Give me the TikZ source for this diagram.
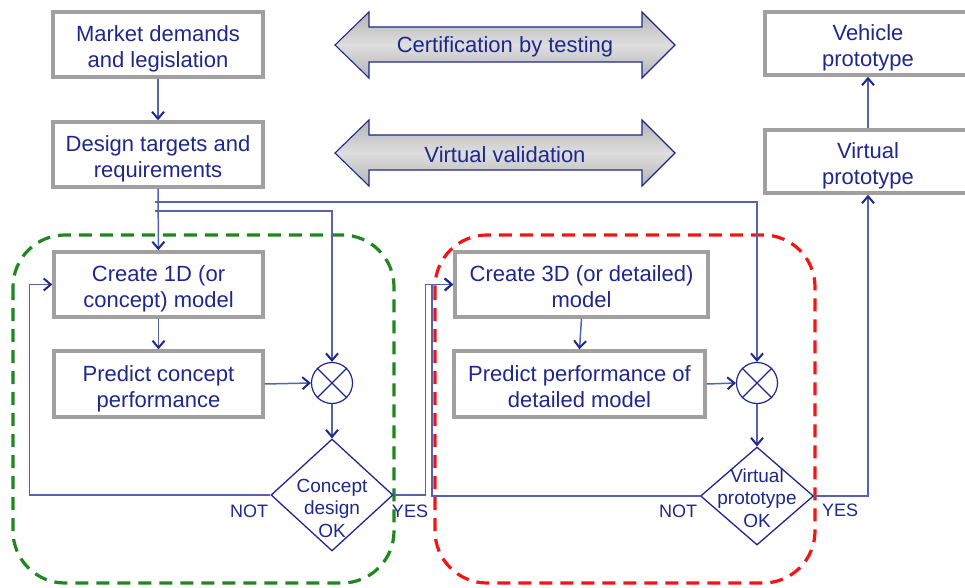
\documentclass[tikz,border=0pt]{standalone}
\usepackage{fontspec}
\setmainfont{Liberation Sans}
\usetikzlibrary{arrows.meta,shapes.geometric}
\definecolor{inkblue}{RGB}{30,40,140}
\definecolor{wireblue}{RGB}{85,100,170}
\definecolor{boxgray}{RGB}{160,160,160}
\definecolor{loopgreen}{RGB}{30,135,30}
\definecolor{loopred}{RGB}{245,20,20}
\definecolor{bandlight}{RGB}{222,222,222}
\definecolor{banddark}{RGB}{180,180,180}
\begin{document}
\begin{tikzpicture}[x=1pt,y=-1pt,
  stepbox/.style={draw=boxgray, line width=3.5pt, fill=white, text=inkblue,
    align=center, inner sep=0pt, font=\fontsize{22}{26}\selectfont,
    text height=46pt, text depth=0pt},
  wire/.style={draw=wireblue, line width=1.5pt,
    -{Straight Barb[length=7pt,width=12pt,line width=2pt,color=inkblue]}},
  mixer/.style={circle, draw=inkblue, line width=1.2pt, minimum size=41pt, inner sep=0pt, fill=white},
  decision/.style={diamond, draw=inkblue, line width=1.3pt, inner sep=0pt, fill=white},
  dtext/.style={text=inkblue, align=center, font=\fontsize{19}{22.5}\selectfont},
  tag/.style={text=inkblue, font=\fontsize{18}{20}\selectfont},
  band/.style={draw=inkblue, line width=1.1pt, top color=banddark, bottom color=banddark, middle color=bandlight},
  bandtext/.style={text=inkblue, font=\fontsize{22}{26}\selectfont},
  loop/.style={line width=3.2pt, dash pattern=on 13pt off 8pt, rounded corners=52pt}
]
\useasboundingbox (0,0) rectangle (965,588);

% dashed loop frames
\draw[loop, draw=loopgreen] (13,235) rectangle (394,583);
\draw[loop, draw=loopred] (435,235) rectangle (815,583);

% validation bands
\path[band] (335,45) -- (369,12) -- (369,27) -- (642,27) -- (642,12) -- (675,45)
  -- (642,78) -- (642,62) -- (369,62) -- (369,78) -- cycle;
\node[bandtext] (cert) at (505,47) {Certification by testing};
\path[band] (335,153) -- (369,120) -- (369,135) -- (642,135) -- (642,120) -- (675,153)
  -- (642,186) -- (642,170) -- (369,170) -- (369,186) -- cycle;
\node[bandtext] (virt) at (505,155) {Virtual validation};

% process boxes
\node[stepbox, minimum width=210pt, minimum height=65pt] (market) at (158,44.5) {Market demands\\and legislation};
\node[stepbox, minimum width=210pt, minimum height=65pt] (design) at (158,154.5) {Design targets and\\requirements};
\node[stepbox, minimum width=209pt, minimum height=65pt] (create1) at (158.5,284.5) {Create 1D (or\\concept) model};
\node[stepbox, minimum width=209pt, minimum height=66pt] (pred1) at (158.5,384) {Predict concept\\performance};
\node[stepbox, minimum width=253pt, minimum height=65pt] (create3) at (581.5,284.5) {Create 3D (or detailed)\\model};
\node[stepbox, minimum width=251pt, minimum height=66pt] (pred3) at (579.5,384) {Predict performance of\\detailed model};
\node[stepbox, minimum width=206pt, minimum height=63pt] (vehicle) at (868,43.5) {Vehicle\\prototype};
\node[stepbox, minimum width=206pt, minimum height=63pt] (virtual) at (868,161.5) {Virtual\\prototype};

% comparators
\node[mixer] (c1) at (332,383) {};
\draw[inkblue, line width=1.2pt] (c1.north east) -- (c1.south west) (c1.north west) -- (c1.south east);
\node[mixer] (c2) at (757,383) {};
\draw[inkblue, line width=1.2pt] (c2.north east) -- (c2.south west) (c2.north west) -- (c2.south east);

% branch points under the targets box
\coordinate (j1) at (155,202);
\coordinate (j2) at (155,211);

% connectors
\draw[wire] (market) -- (design);
\draw[wire] (design) -- (create1);
\draw[wire] (j1) -| (c2.north);
\draw[wire] (j2) -| (c1.north);
\draw[wire] (create1) -- (pred1);
\draw[wire] (pred1.east) -- (c1.west);
\draw[wire] (create3.south) -- (pred3.north);
\draw[wire] (pred3.east) -- (c2.west);

% decisions
\node[decision, minimum width=122pt, minimum height=112pt] (d1) at (332,495) {};
\node[dtext] (d1t) at (332,508) {Concept\\design\\OK};
\node[decision, minimum width=113pt, minimum height=98pt] (d2) at (757,496) {};
\node[dtext] (d2t) at (757,498) {Virtual\\prototype\\OK};

\draw[wire] (c1.south) -- (d1.north);
\draw[wire] (c2.south) -- (d2.north);
\draw[wire] (d1.west) -- ++(-241,0) |- (create1.west);
\draw[wire] (d1.east) -- ++(32,0) |- (create3.west);
\draw[wire] (d2.west) -- ++(-268,0) |- (create3.west);
\draw[wire] (d2.east) -| (virtual.south);
\draw[wire] (virtual) -- (vehicle);

% branch labels
\node[tag] (not1) at (249,511) {NOT};
\node[tag] (yes1) at (410,511) {YES};
\node[tag] (not2) at (678,511) {NOT};
\node[tag] (yes2) at (840,510) {YES};
\end{tikzpicture}
\end{document}
